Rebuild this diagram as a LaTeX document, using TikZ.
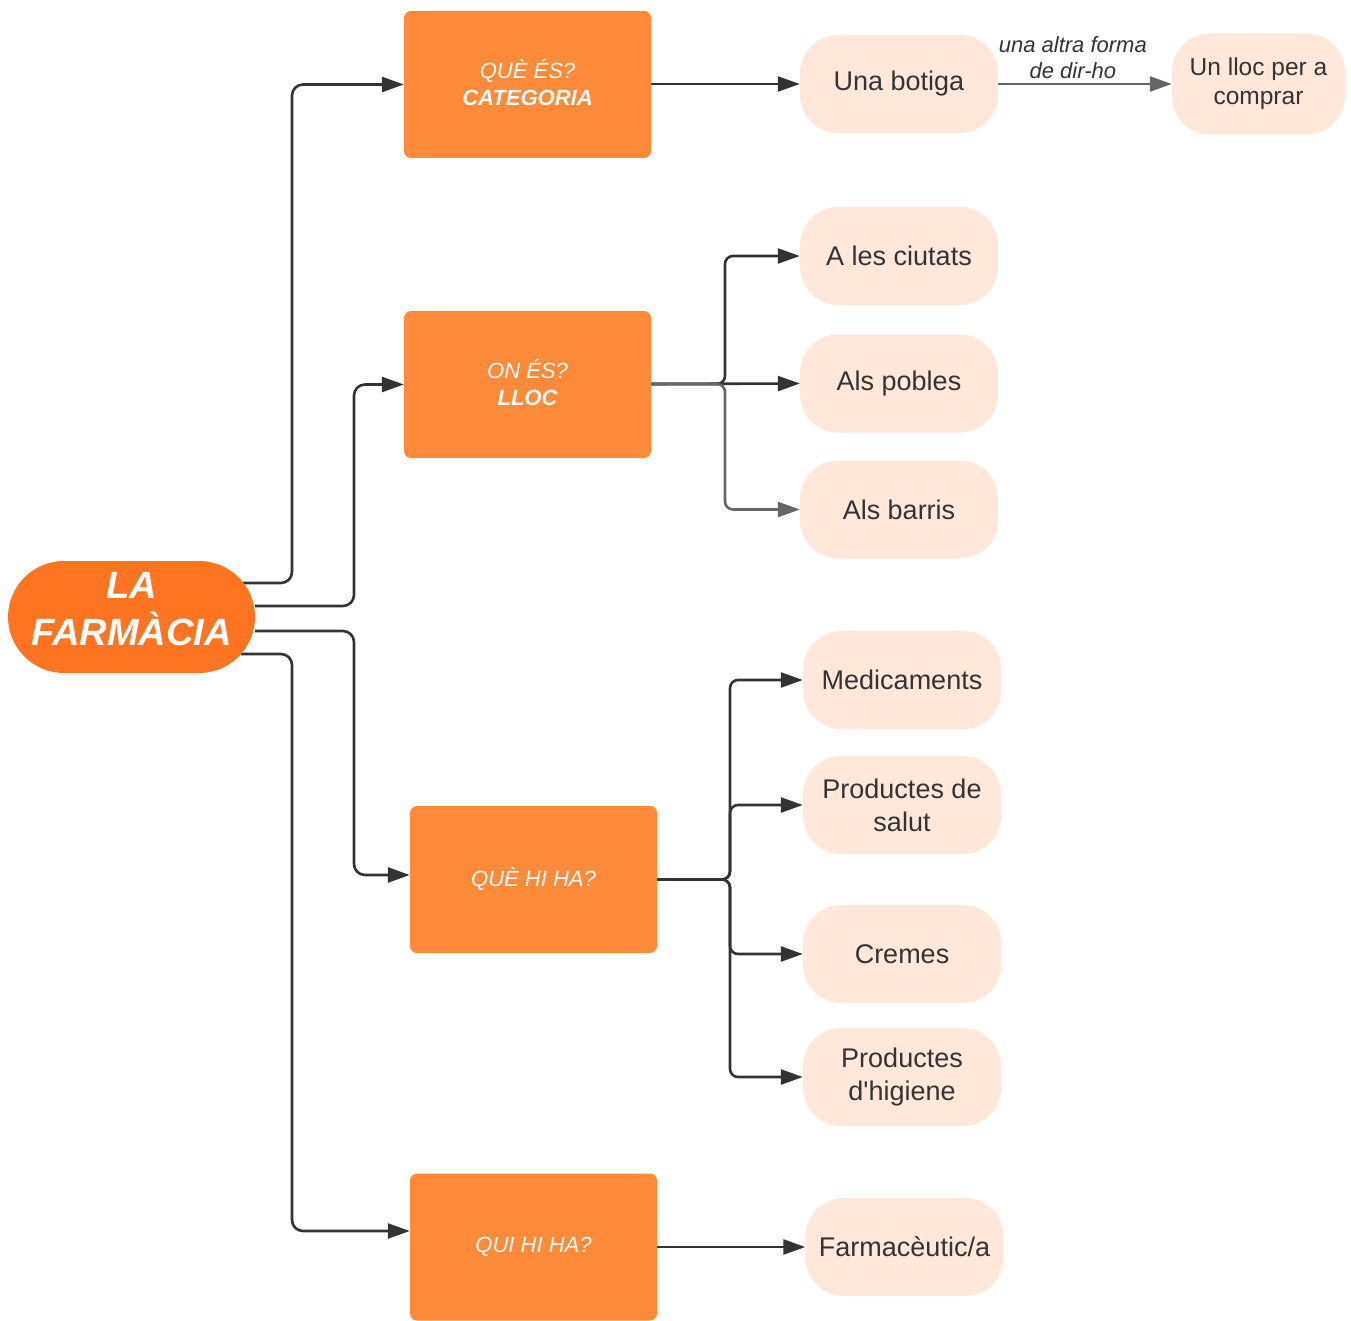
\documentclass[tikz,border=0pt]{standalone}
\usepackage{fontspec}
\setmainfont{Liberation Sans}
\usetikzlibrary{arrows.meta,backgrounds}
\definecolor{rootorange}{HTML}{FF7420}
\definecolor{boxorange}{HTML}{FF8A3A}
\definecolor{pillpeach}{HTML}{FFE8DA}
\definecolor{inkdark}{HTML}{333333}
\definecolor{inkgrey}{HTML}{666666}

\begin{document}
\begin{tikzpicture}[x=1pt, y=-1pt,
  root/.style={fill=rootorange, rounded corners=56pt, minimum width=247pt, minimum height=112pt,
    text depth=16pt, text=white, align=center, font=\fontsize{38}{47}\selectfont\bfseries\itshape},
  question/.style={fill=boxorange, rounded corners=7pt, minimum width=247pt, minimum height=147pt,
    text=white, align=center, font=\fontsize{22}{27}\selectfont\itshape},
  answer/.style={fill=pillpeach, rounded corners=38pt, minimum width=198pt, minimum height=98pt,
    text=inkdark, align=center, font=\fontsize{27}{33}\selectfont},
  link/.style={draw=inkdark, line width=2.6pt, rounded corners=8pt, -{Triangle[length=22pt,width=15pt]}},
  linklabel/.style={text=inkdark, align=center, inner sep=4pt, font=\fontsize{22}{26}\selectfont\itshape}]
\useasboundingbox (0,0) rectangle (1351,1321);

% Root
\node[root] (farmacia) at (131.5,617) {LA\\FARMÀCIA};

% Questions
\node[question, text depth=5pt] (categoria) at (527.5,84.5) {QUÈ ÉS?\\\textbf{CATEGORIA}};
\node[question, text depth=5pt] (lloc) at (527.5,384.5) {ON ÉS?\\\textbf{LLOC}};
\node[question] (hiha) at (533.5,879.5) {QUÈ HI HA?};
\node[question] (quihiha) at (533.5,1247) {QUI HI HA?};

% Answers
\node[answer] (botiga) at (899,84) {Una botiga};
\node[answer, minimum width=173pt, minimum height=101pt, font=\fontsize{24.5}{29}\selectfont] (comprar) at (1258.5,84) {Un lloc per a\\comprar};
\node[answer] (ciutats) at (899,256) {A les ciutats};
\node[answer] (pobles) at (899,383.5) {Als pobles};
\node[answer] (barris) at (899,509.5) {Als barris};
\node[answer] (medicaments) at (902,680) {Medicaments};
\node[answer] (salut) at (902,805) {Productes de\\salut};
\node[answer] (cremes) at (902,954) {Cremes};
\node[answer] (higiene) at (902,1077) {Productes\\d\textquotesingle higiene};
\node[answer] (farmaceutic) at (904.5,1247) {Farmacèutic/a};

% Trunks and entry points
\coordinate (roottrunkA) at (292,617);
\coordinate (roottrunkB) at (354,617);
\coordinate (lloctrunk) at (725,384);
\coordinate (hihatrunk) at (730,879.5);
\coordinate (hihain) at ([yshift=4.5pt]hiha.west);
\coordinate (quihihain) at ([yshift=16pt]quihiha.west);

\begin{scope}[on background layer]
% Root to questions
\draw[link, rounded corners=11pt] ([xshift=-12pt, yshift=34pt]farmacia.east) -| (roottrunkA |- categoria.west) -- (categoria.west);
\draw[link, rounded corners=11pt] ([yshift=11pt]farmacia.east) -| (roottrunkB |- lloc.west) -- (lloc.west);
\draw[link, rounded corners=11pt] ([yshift=-14pt]farmacia.east) -| (roottrunkB |- hihain) -- (hihain);
\draw[link, rounded corners=11pt] ([xshift=-14pt, yshift=-37pt]farmacia.east) -| (roottrunkA |- quihihain) -- (quihihain);
\end{scope}

% Questions to answers
\draw[link] (categoria.east |- botiga.west) -- (botiga.west);
\draw[link, draw=inkgrey] (botiga.east) -- node[pos=0.43, above, linklabel] {una altra forma\\de dir-ho} (comprar.west);

\draw[link] (lloc.east |- lloctrunk) -- (lloctrunk) |- (ciutats.west);
\draw[link] (lloc.east |- lloctrunk) -- (pobles.west);
\draw[link, draw=inkgrey] (lloc.east |- lloctrunk) -- (lloctrunk) |- (barris.west);

\foreach \target in {medicaments,salut,cremes,higiene}
  \draw[link] (hiha.east) -- (hihatrunk) |- (\target.west);

\draw[link] (quihiha.east |- farmaceutic.west) -- (farmaceutic.west);
\end{tikzpicture}
\end{document}
